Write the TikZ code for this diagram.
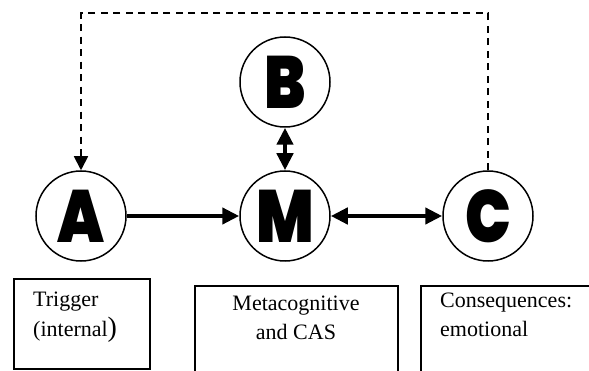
\documentclass[tikz,border=0pt]{standalone}
\usepackage{fontspec}
\setmainfont{Liberation Serif}
\newfontfamily\heavyfont{Poppins Black}[FakeStretch=0.82]
\usetikzlibrary{arrows.meta}

\begin{document}
\begin{tikzpicture}[x=1pt,y=-1pt,
    letter/.style={circle,draw,line width=1.5pt,minimum size=90pt,inner sep=0pt,
      font=\heavyfont\fontsize{74}{74}\selectfont},
    txtbox/.style={draw,line width=1.8pt,anchor=north west,inner sep=0pt},
    boxtext/.style={anchor=base west,inner sep=0pt,font=\fontsize{22}{26}\selectfont},
    flow/.style={line width=4.5pt,-{Triangle[length=17pt,width=16pt]}},
    both/.style={line width=4.5pt,{Triangle[length=17pt,width=16pt]}-{Triangle[length=17pt,width=16pt]}},
    back/.style={line width=1.8pt,dash pattern=on 7pt off 5.5pt,-{Triangle[length=14pt,width=14pt]}}]
  \useasboundingbox (0,0) rectangle (589,371);
  \clip (0,0) rectangle (589,371);
  % the four letters
  \node[letter] (A) at (81,216) {A};
  \node[letter] (M) at (285,216) {M};
  \node[letter] (C) at (488,216) {C};
  \node[letter] (B) at (285,82) {B};
  % boxes below
  \node[txtbox,minimum width=136pt,minimum height=90pt] (trig) at (13,278) {};
  \node[txtbox,minimum width=203pt,minimum height=120pt] (meta) at (194,285) {};
  \node[txtbox,minimum width=200pt,minimum height=120pt] (cons) at (420,285) {};
  \node[boxtext] (trig1) at (33,307) {Trigger};
  \node[boxtext] (trig2) at (33,336) {(internal{\fontsize{28}{28}\selectfont)}};
  \node[boxtext,anchor=base] (meta1) at (296,311) {Metacognitive};
  \node[boxtext,anchor=base] (meta2) at (296,340) {and CAS};
  \node[boxtext] (cons1) at (440,308) {Consequences:};
  \node[boxtext] (cons2) at (440,337) {emotional};
  % connectors
  \draw[flow] (A) -- (M);
  \draw[both] (M) -- (C);
  \draw[both] (B) -- (M);
  \draw[back] (C.north) -- ++(0,-157) -| (A.north);
\end{tikzpicture}
\end{document}
